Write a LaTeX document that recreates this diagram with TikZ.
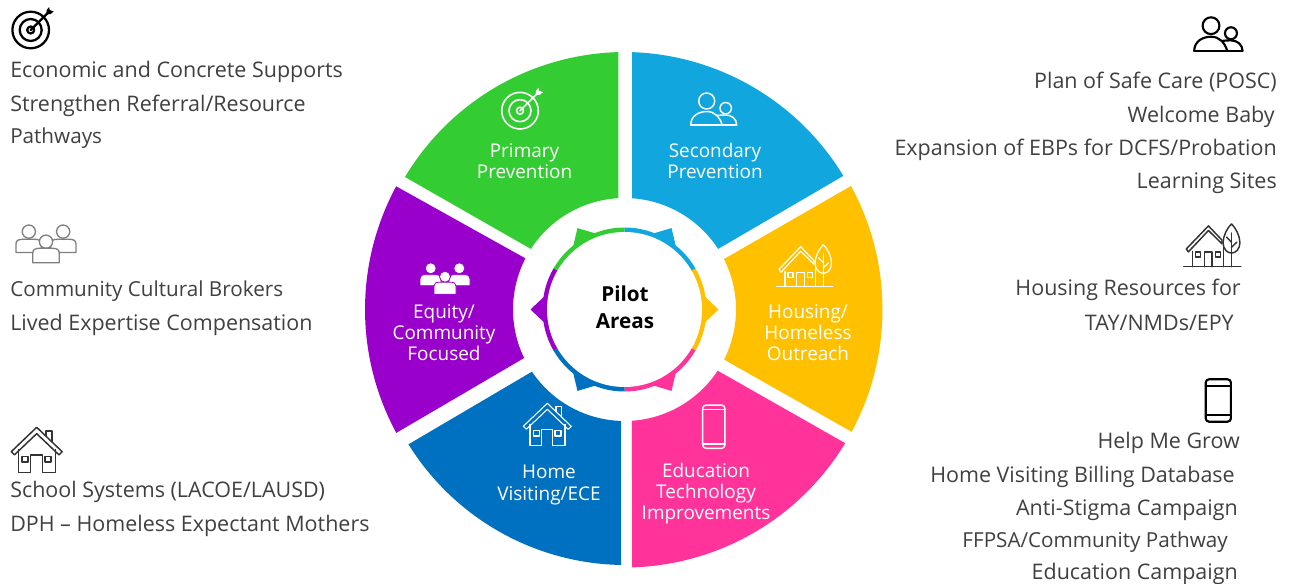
\documentclass[tikz,border=0pt]{standalone}
\usepackage{fontspec}
\setmainfont{Open Sans}
\usetikzlibrary{calc}
\definecolor{cGreen}{HTML}{33CC33}
\definecolor{cSky}{HTML}{11A6DE}
\definecolor{cAmber}{HTML}{FFC000}
\definecolor{cPink}{HTML}{FF3399}
\definecolor{cHome}{HTML}{0070C0}
\definecolor{cPurple}{HTML}{9900CC}
\definecolor{cText}{HTML}{404040}
\definecolor{cIconGray}{HTML}{7F7F7F}
\tikzset{
  sideL/.style={anchor=base west,inner sep=0pt,text=cText,font=\fontsize{16.1}{19}\selectfont},
  sideR/.style={anchor=base east,inner sep=0pt,text=cText,font=\fontsize{16.1}{19}\selectfont},
  sideSmall/.style={font=\fontsize{15.5}{19}\selectfont},
  wheelText/.style={anchor=base,inner sep=0pt,text=white,align=center,font=\fontsize{14.2}{15.8}\selectfont},
  hubText/.style={anchor=base,inner sep=0pt,text=black,align=center,font=\fontsize{15.5}{20.4}\selectfont\bfseries},
  iconLine/.style={line join=round,line cap=round}
}
% colour, outer centre, outer radius, outer start, outer end, inner start, inner end
\newcommand\wheelSlice[7]{%
  \fill[#1] ($(#2)+(#4:#3)$) arc[start angle=#4,end angle=#5,radius=#3]
    -- ($(C)+(#6:111.5)$) arc[start angle=#6,end angle=#7,radius=111.5] -- cycle;}
% colour, start, end, tip direction
\newcommand\hubSeg[4]{%
  \fill[#1] (C) -- ($(C)+(#2:82)$) arc[start angle=#2,end angle=#3,radius=82] -- cycle;
  \fill[#1] ($(C)+({#4-9.5}:81)$) -- ($(C)+(#4:94)$) -- ($(C)+({#4+9.5}:81)$) -- cycle;}
\newcommand\icoTarget[1]{\begin{scope}[iconLine,#1]
  \draw (0,0) circle[radius=18.3];
  \draw (0,0) circle[radius=11];
  \draw (0,0) circle[radius=3.5];
  \draw (0,0) -- (17,17);
  \fill (15.5,15.5) -- (16,20) -- (18.5,23) -- (19,20) -- (23,18.5) -- (20,16) -- cycle;
\end{scope}}
\newcommand\icoTwoPeople[1]{\begin{scope}[iconLine,#1]
  \draw (0,0) circle[radius=8];
  \draw (19,-7.2) circle[radius=5.7];
  \draw (-16,-24) .. controls (-16,-15) and (-8,-10.5) .. (0,-10.5)
     .. controls (8,-10.5) and (13,-16) .. (15.5,-24);
  \draw (10.5,-14.5) .. controls (14,-14) and (16,-14) .. (19,-14)
     .. controls (25,-14) and (30,-18) .. (30,-24);
  \draw (-16,-24) -- (30,-24);
\end{scope}}
\newcommand\icoHouseTree[1]{\begin{scope}[iconLine,#1]
  \draw (-28,0) -- (28,0);
  \draw (-25.5,17.4) -- (-3.8,40) -- (9.5,26) -- (9.5,22.5) -- (-3.8,35.5) -- (-23.5,14.5) -- cycle;
  \draw (-19.5,15) -- (-19.5,0);
  \draw (11,21) -- (11,0);
  \draw (-16.5,9.5) rectangle (-11.5,14.5);
  \draw (3,9.5) rectangle (8,14.5);
  \draw (-7.8,0) -- (-7.8,14.5) -- (-0.2,14.5) -- (-0.2,0);
  \draw (18.8,42) .. controls (23,38) and (27,30) .. (27,24)
     .. controls (27,17) and (23,13.4) .. (18.8,13.4)
     .. controls (14.6,13.4) and (10.6,17) .. (10.6,24)
     .. controls (10.6,30) and (14.6,38) .. (18.8,42);
  \draw (18.8,0) -- (18.8,33);
  \draw (18.8,19) -- (24,24);
  \draw (18.8,24) -- (14,29);
\end{scope}}
\newcommand\icoHome[1]{\begin{scope}[iconLine,#1]
  \draw (0,0) -- (-24,-23) -- (-21,-26) -- (0,-6) -- (21,-26) -- (24,-23) -- cycle;
  \draw (8.7,-8) -- (8.7,-3.4) -- (14.4,-3.4) -- (14.4,-13.5);
  \draw (-17.3,-21) -- (-17.3,-42.4) -- (-5.6,-42.4) -- (-5.6,-26) -- (5.4,-26) -- (5.4,-42.4) -- (17.7,-42.4) -- (17.7,-21);
  \draw (-14,-27.4) rectangle (-8,-32.7);
  \draw (7.7,-27.4) rectangle (13.7,-32.7);
\end{scope}}
% options, half width, half height, bar inset
\newcommand\icoPhone[4]{\begin{scope}[iconLine,#1]
  \draw[rounded corners=2.5] (-#2,-#3) rectangle (#2,#3);
  \draw (-#2,{#3-#4}) -- (#2,{#3-#4});
  \draw (-#2,{-#3+#4}) -- (#2,{-#3+#4});
\end{scope}}
% left, right, base, top
\newcommand\icoBody[4]{%
  \filldraw (#1,#3) -- (#1,{#4-4}) .. controls (#1,{#4-1}) and ({#1+2},#4) .. ({#1+5.5},#4)
    -- ({#2-5.5},#4) .. controls ({#2-2},#4) and (#2,{#4-1}) .. (#2,{#4-4}) -- (#2,#3) -- cycle;}
\newcommand\icoThreePeople[1]{\begin{scope}[iconLine,#1]
  \filldraw (-14.3,8.4) circle[radius=5.5];
  \filldraw (14.3,8.4) circle[radius=5.5];
  \icoBody{-25}{-4}{-9}{2}
  \icoBody{4}{25}{-9}{2}
  \filldraw (0,0) circle[radius=5.5];
  \icoBody{-11}{11}{-17.5}{-5.5}
\end{scope}}
\begin{document}
\begin{tikzpicture}[x=0.75pt,y=0.75pt]
\useasboundingbox (0,0) rectangle (1291,-584);
\fill[white] (0,0) rectangle (1291,-584);
\coordinate (C) at (624.5,-309.5);
\coordinate (CGreen) at (625.5,-309);
\coordinate (CSky) at (623.5,-309);
\coordinate (CHome) at (625.5,-309.5);
\coordinate (CPurple) at (624,-309.5);
% wheel
\wheelSlice{cGreen}{CGreen}{257}{91.6}{149.1}{147.1}{93.2}
\wheelSlice{cSky}{CSky}{257}{31.2}{88.1}{86.1}{32.9}
\wheelSlice{cAmber}{C}{258}{-28.3}{28.6}{26.9}{-26.7}
\wheelSlice{cPink}{C}{258}{-88.3}{-31.2}{-33.3}{-86.2}
\wheelSlice{cHome}{CHome}{255.5}{211.85}{269}{268.2}{213.9}
\wheelSlice{cPurple}{CPurple}{259}{151.6}{208.45}{205.8}{152.7}
% hub
\hubSeg{cGreen}{90}{150}{120}
\hubSeg{cSky}{30}{90}{60}
\hubSeg{cAmber}{-30}{30}{0}
\hubSeg{cPink}{-90}{-30}{-60}
\hubSeg{cHome}{210}{270}{240}
\hubSeg{cPurple}{150}{210}{180}
\fill[white] (C) circle[radius=77.5];
\node[hubText] (hub) at (625,-329) {Pilot\\Areas};
% wheel labels
\node[wheelText] (primary) at (524.5,-179) {Primary\\Prevention};
\node[wheelText] (secondary) at (715,-179) {Secondary\\Prevention};
\node[wheelText] (housing) at (808,-360.5) {Housing/\\Homeless\\Outreach};
\node[wheelText] (equity) at (444,-360.5) {Equity/\\Community\\Focused};
\node[wheelText] (homevisit) at (549,-500) {Home\\Visiting/ECE};
\node[wheelText] (education) at (706,-519.5) {Education\\Technology\\Improvements};
% wheel icons
\icoTarget{shift={(520,-110.7)},color=white,line width=1.2pt}
\icoTwoPeople{shift={(706.7,-101)},color=white,line width=1.1pt}
\icoHouseTree{shift={(804.5,-286.7)},color=white,line width=0.9pt}
\icoHome{shift={(547.3,-403.3)},color=white,line width=0.8pt}
\icoPhone{shift={(713.8,-426.7)},color=white,line width=1.1pt}{11.1}{21.6}{4.3}
\icoThreePeople{shift={(445,-276.7)},fill=white,draw=cPurple,line width=0.6pt}
% side icons
\icoTarget{shift={(30.7,-30)},color=black,line width=1.7pt}
\icoTwoPeople{shift={(1211,-25.7)},scale=1.05,color=black,line width=1.6pt}
\icoHouseTree{shift={(1212.3,-266.7)},scale=1.02,color=black!80,line width=1.1pt}
\icoHome{shift={(36.7,-427.3)},scale=1.06,color=black!80,line width=1.1pt}
\icoPhone{shift={(1218.3,-400.5)},color=black,line width=1.6pt}{12.6}{21.2}{6.4}
\icoThreePeople{shift={(46,-241.7)},scale=1.2,fill=white,draw=cIconGray,line width=1pt}
% left texts
\node[sideL] (l1) at (10,-78) {Economic and Concrete Supports};
\node[sideL] (l2) at (10,-112) {Strengthen Referral/Resource};
\node[sideL,sideSmall] (l3) at (10,-144) {Pathways};
\node[sideL,sideSmall] (l4) at (10,-297) {Community Cultural Brokers};
\node[sideL] (l5) at (10,-330) {Lived Expertise Compensation};
\node[sideL] (l6) at (10,-497) {School Systems (LACOE/LAUSD)};
\node[sideL] (l7) at (10,-531) {DPH – Homeless Expectant Mothers};
% right texts
\node[sideR] (r1) at (1277,-89) {Plan of Safe Care (POSC)};
\node[sideR] (r2) at (1275,-123) {Welcome Baby};
\node[sideR] (r3) at (1277,-156) {Expansion of EBPs for DCFS/Probation};
\node[sideR] (r4) at (1277,-189) {Learning Sites};
\node[sideR] (r5) at (1241,-296) {Housing Resources for};
\node[sideR] (r6) at (1234,-330) {TAY/NMDs/EPY};
\node[sideR] (r7) at (1240,-448) {Help Me Grow};
\node[sideR] (r8) at (1235,-482) {Home Visiting Billing Database};
\node[sideR] (r9) at (1238,-515) {Anti-Stigma Campaign};
\node[sideR,sideSmall] (r10) at (1228,-547) {FFPSA/Community Pathway};
\node[sideR] (r11) at (1238,-579) {Education Campaign};
\end{tikzpicture}
\end{document}
